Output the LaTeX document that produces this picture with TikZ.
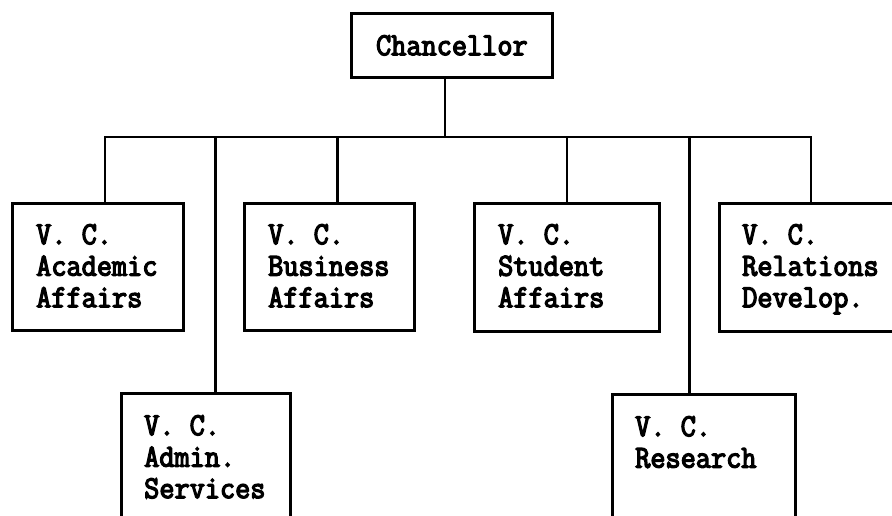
\documentclass[tikz,border=0pt]{standalone}
\usepackage{fontspec}
\newfontfamily\boxfont[FakeBold=4, FakeStretch=0.92]{Latin Modern Mono}
\begin{document}
\begin{tikzpicture}[x=1pt,y=-1pt,
  box/.style={draw, line width=2.8pt, anchor=north west, inner sep=0pt},
  lbl/.style={font=\boxfont\fontsize{32}{31.5}\selectfont, align=left, anchor=north west, inner sep=0pt},
  link/.style={draw, line width=2.8pt}]
\useasboundingbox (0,0) rectangle (892,516);
\clip (0,0) rectangle (892,516);
% boxes
\node[box, minimum width=201pt, minimum height=64pt] (chanc) at (350,12) {};
\node[box, minimum width=171pt, minimum height=127pt] (acad) at (11,202) {};
\node[box, minimum width=170pt, minimum height=127pt] (bus) at (243,202) {};
\node[box, minimum width=185pt, minimum height=128pt] (stud) at (473,202) {};
\node[box, minimum width=200pt, minimum height=128pt] (rel) at (718,202) {};
\node[box, minimum width=169pt, minimum height=150pt] (admin) at (120,392) {};
\node[box, minimum width=183pt, minimum height=150pt] (res) at (611,393) {};
% labels
\node[lbl, anchor=center] (chancT) at (chanc.center) {Chancellor};
\node[lbl] (acadT) at ([shift={(25,22)}]acad.north west) {V. C.\\Academic\\Affairs};
\node[lbl] (busT) at ([shift={(25,22)}]bus.north west) {V. C.\\Business\\Affairs};
\node[lbl] (studT) at ([shift={(25,22)}]stud.north west) {V. C.\\Student\\Affairs};
\node[lbl] (relT) at ([shift={(24,22)}]rel.north west) {V. C.\\Relations\\Develop.};
\node[lbl] (adminT) at ([shift={(24,23)}]admin.north west) {V. C.\\Admin.\\Services};
\node[lbl] (resT) at ([shift={(24,23)}]res.north west) {V. C.\\Research};
% connectors
\coordinate (barL) at (105,137);
\coordinate (barR) at (811,137);
\draw[link] (barL |- acad.north) -- (barL) -- (barR) -- (barR |- rel.north);
\draw[link] ([xshift=-7pt]chanc.south) -- ([xshift=-7pt]chanc.south |- barL);
\draw[link] ([xshift=9.5pt]admin.north) -- ([xshift=9.5pt]admin.north |- barL);
\draw[link] ([xshift=8pt]bus.north) -- ([xshift=8pt]bus.north |- barL);
\draw[link] (stud.north) -- (stud.north |- barL);
\draw[link] ([xshift=-14.5pt]res.north) -- ([xshift=-14.5pt]res.north |- barL);
\end{tikzpicture}
\end{document}
